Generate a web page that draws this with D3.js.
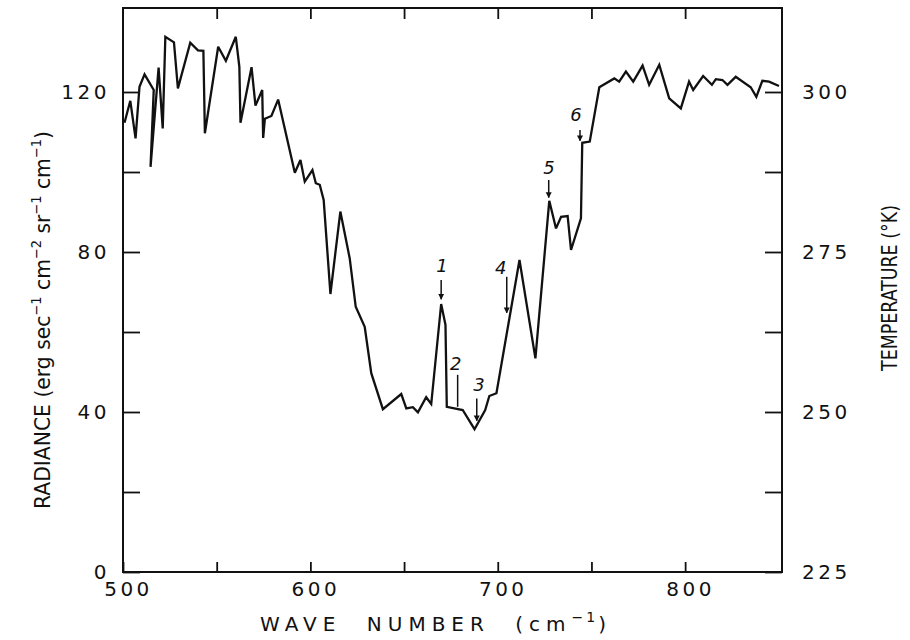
<!DOCTYPE html>
<html>
<head>
<meta charset="utf-8">
<script src="https://cdn.jsdelivr.net/npm/d3@7/dist/d3.min.js"></script>
<style>
  html, body { margin: 0; padding: 0; background: #ffffff; }
  svg { display: block; }
  text { fill: #111; }
</style>
</head>
<body>
<svg id="chart" width="910" height="640"></svg>
<script>
// ---------- data ----------
const waveNumber = [500.8, 503.9, 506.7, 508.8, 511.5, 516.4, 514.7, 519.0, 521.2, 522.6,
  527.2, 529.3, 535.9, 540.0, 542.9, 543.7, 550.8, 554.9, 560.2, 562.1,
  562.7, 568.6, 570.7, 574.3, 574.8, 575.7, 579.2, 582.8, 591.7, 594.7,
  597.0, 601.1, 602.9, 605.0, 607.1, 610.7, 616.0, 621.0, 624.2, 629.0,
  632.5, 638.7, 648.5, 651.2, 654.7, 657.4, 661.8, 664.5, 669.8, 672.1,
  672.8, 681.3, 687.6, 693.3, 695.5, 699.3, 711.6, 720.1, 727.5, 731.1,
  733.8, 737.3, 739.1, 744.4, 745.1, 749.1, 754.2, 762.2, 764.8, 768.4,
  772.3, 777.3, 780.8, 786.2, 791.5, 797.7, 802.1, 804.3, 809.6, 814.3,
  816.4, 819.9, 822.6, 827.0, 835.0, 838.0, 841.2, 844.8, 850.1];
const radiance = [112.3, 117.8, 108.4, 121.3, 124.4, 120.5, 101.3, 126.1, 110.9, 133.8,
  132.4, 120.9, 132.3, 130.4, 130.3, 109.7, 131.3, 127.8, 133.8, 126.3,
  112.3, 126.2, 116.6, 120.5, 108.5, 113.3, 114.0, 118.1, 99.8, 103.0,
  97.6, 100.5, 97.2, 96.8, 93.0, 69.5, 90.1, 78.4, 66.3, 61.3,
  49.7, 40.7, 44.5, 40.9, 41.2, 39.9, 43.7, 42.0, 67.0, 61.8,
  41.3, 40.5, 35.7, 40.5, 44.0, 44.7, 78.0, 53.4, 92.8, 85.9,
  88.8, 89.0, 80.5, 88.4, 107.3, 107.6, 121.2, 123.4, 122.6, 125.1,
  122.6, 126.6, 121.8, 126.8, 118.4, 115.9, 122.6, 120.5, 124.0, 121.8,
  123.2, 123.0, 121.8, 123.8, 121.2, 118.8, 122.8, 122.6, 121.5];

// x tick values (wave number) and labelled ones
const xTicks = [500, 550, 600, 650, 700, 750, 800];
const xTickLabels = ["500", "", "600", "", "700", "", "800"];
// left radiance ticks
const yTicks = [0, 20, 40, 60, 80, 100, 120];
const yTickLabels = ["0", "", "40", "", "80", "", "120"];
// right temperature ticks
const tTicks = [225, 237.5, 250, 262.5, 275, 287.5, 300];
const tTickLabels = ["225", "", "250", "", "275", "", "300"];

// numbered markers: label, wave number, arrow top, arrow bottom, label position, has arrowhead
const markLabel = ["1", "2", "3", "4", "5", "6"];
const markX     = [669.8, 678.6, 688.8, 704.8, 727.2, 743.9];
const markTop   = [73.0, 49.3, 43.4, 73.8, 98.0, 110.5];
const markBot   = [68.2, 41.3, 37.8, 64.8, 93.6, 107.8];
const markTextX = [670.3, 677.6, 690.0, 701.6, 727.4, 741.8];
const markTextY = [75.0, 50.6, 45.2, 74.6, 99.6, 112.8];
const markArrow = [true, false, true, true, true, true];

// ---------- layout ----------
const svg = d3.select("#chart");
const L = 123, R = 782, T = 8, B = 572;
const x = d3.scaleLinear().domain([500, 851.7]).range([L, R]);
const y = d3.scaleLinear().domain([0, 141]).range([B, T]);
const yT = d3.scaleLinear().domain([225, 225 + 141 * 25 / 40]).range([B, T]);

const tickFont = "'DejaVu Sans', sans-serif";

// frame
svg.append("rect").attr("x", L).attr("y", T).attr("width", R - L).attr("height", B - T)
  .attr("fill", "none").attr("stroke", "#111").attr("stroke-width", 2);

function styleAxis(g) {
  g.select(".domain").remove();
  g.selectAll(".tick line").attr("stroke", "#111").attr("stroke-width", 1.8);
  g.selectAll(".tick text").attr("font-family", tickFont).attr("font-size", 20)
    .attr("letter-spacing", 3.5).attr("fill", "#111");
}

// bottom axis
svg.append("g").attr("transform", `translate(0,${B})`)
  .call(d3.axisBottom(x).tickValues(xTicks).tickSizeInner(-10).tickSizeOuter(0).tickPadding(10)
    .tickFormat((d, i) => xTickLabels[i]))
  .call(styleAxis)
  .call(g => g.selectAll(".tick text").attr("dx", 5));
// top axis
svg.append("g").attr("transform", `translate(0,${T})`)
  .call(d3.axisTop(x).tickValues(xTicks.slice(1)).tickSizeInner(-11).tickSizeOuter(0).tickFormat(""))
  .call(styleAxis);
// left axis
svg.append("g").attr("transform", `translate(${L},0)`)
  .call(d3.axisLeft(y).tickValues(yTicks).tickSizeInner(-17).tickSizeOuter(0).tickPadding(13)
    .tickFormat((d, i) => yTickLabels[i]))
  .call(styleAxis);
// right axis
svg.append("g").attr("transform", `translate(${R},0)`)
  .call(d3.axisRight(yT).tickValues(tTicks).tickSizeInner(-17).tickSizeOuter(0).tickPadding(20)
    .tickFormat((d, i) => tTickLabels[i]))
  .call(styleAxis);

// spectrum line
const pts = waveNumber.map((w, i) => [w, radiance[i]]);
svg.append("path").datum(pts)
  .attr("fill", "none").attr("stroke", "#111").attr("stroke-width", 2.3)
  .attr("stroke-linejoin", "miter").attr("stroke-miterlimit", 3)
  .attr("d", d3.line().x(d => x(d[0])).y(d => y(d[1])));

// arrow marker
svg.append("defs").append("marker").attr("id", "ah")
  .attr("viewBox", "0 0 10 10").attr("refX", 9).attr("refY", 5)
  .attr("markerWidth", 6).attr("markerHeight", 7).attr("markerUnits", "userSpaceOnUse")
  .attr("orient", "auto")
  .append("path").attr("d", "M0,0 L10,5 L0,10 Z").attr("fill", "#111");

markLabel.forEach((lab, i) => {
  svg.append("line")
    .attr("x1", x(markX[i])).attr("x2", x(markX[i]))
    .attr("y1", y(markTop[i])).attr("y2", y(markBot[i]))
    .attr("stroke", "#111").attr("stroke-width", 1.5)
    .attr("marker-end", markArrow[i] ? "url(#ah)" : null);
  svg.append("text")
    .attr("x", x(markTextX[i])).attr("y", y(markTextY[i]))
    .attr("text-anchor", "middle")
    .attr("font-family", "'DejaVu Sans', sans-serif").attr("font-style", "italic")
    .attr("font-size", 18).text(lab);
});

// horizontal squeeze/stretch of a text so that it spans a target length
function fit(textSel, target) {
  const len = textSel.node().getComputedTextLength();
  textSel.attr("transform", `scale(${target / len},1)`);
}

// x title
const xt = svg.append("text").attr("x", 436).attr("y", 631).attr("text-anchor", "middle")
  .attr("font-family", tickFont).attr("font-size", 20).attr("letter-spacing", 6)
  .attr("word-spacing", 13);
xt.append("tspan").text("WAVE NUMBER (cm");
xt.append("tspan").attr("dy", -9).attr("font-size", 14).attr("letter-spacing", 3).text("−1");
xt.append("tspan").attr("dy", 9).text(")");

// left title
const condensed = "'Liberation Sans Narrow', 'DejaVu Sans Condensed', sans-serif";
const ylg = svg.append("g").attr("transform", "translate(50,320) rotate(-90)");
const yl = ylg.append("text").attr("x", 0).attr("y", 0)
  .attr("text-anchor", "middle").attr("font-family", condensed).attr("font-size", 22);
const parts = [["RADIANCE (erg sec", "−1"], [" cm", "−2"], [" sr", "−1"], [" cm", "−1"]];
parts.forEach((p, i) => {
  yl.append("tspan").attr("dy", i === 0 ? 0 : 9).text(p[0]);
  yl.append("tspan").attr("dy", -9).attr("font-size", 14).text(p[1]);
});
yl.append("tspan").attr("dy", 9).text(")");
fit(yl, 378);

// right title
const ytg = svg.append("g").attr("transform", "translate(897,288) rotate(-90)");
const yt = ytg.append("text").attr("text-anchor", "middle").attr("font-family", condensed)
  .attr("font-size", 22).text("TEMPERATURE (°K)");
fit(yt, 166);
</script>
</body>
</html>
